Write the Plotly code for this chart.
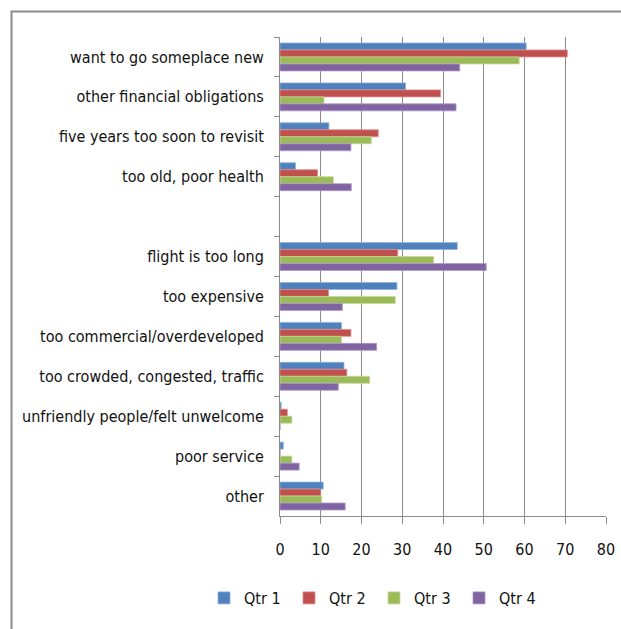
import plotly.graph_objects as go

# Reasons for not returning, by quarter (percent of respondents)
categories = [
    "want to go someplace new",
    "other financial obligations",
    "five years too soon to revisit",
    "too old, poor health",
    " ",
    "flight is too long",
    "too expensive",
    "too commercial/overdeveloped",
    "too crowded, congested, traffic",
    "unfriendly people/felt unwelcome",
    "poor service",
    "other",
]

qtr1 = [60.4, 30.8, 12.0, 3.8, None, 43.5, 28.7, 15.1, 15.7, 0.3, 0.8, 10.6]
qtr2 = [70.5, 39.4, 24.1, 9.2, None, 28.9, 11.9, 17.4, 16.4, 1.8, 0.0, 10.0]
qtr3 = [58.7, 10.8, 22.4, 13.1, None, 37.7, 28.3, 15.1, 22.0, 2.9, 2.9, 10.2]
qtr4 = [44.1, 43.2, 17.4, 17.5, None, 50.6, 15.3, 23.7, 14.3, 0.0, 4.7, 16.0]

series_names = ["Qtr 1", "Qtr 2", "Qtr 3", "Qtr 4"]
x_ticks = [0, 10, 20, 30, 40, 50, 60, 70, 80]

colors = ["#4F81BD", "#C0504D", "#9BBB59", "#8064A2"]
edges = ["#8FB0DA", "#DC8E8C", "#C3DA96", "#AE98C8"]

FONT = "Liberation Sans Narrow, DejaVu Sans Condensed, Arial Narrow, sans-serif"
W, H = 621, 629
ML, MR, MT, MB = 280, 15, 37, 113
PW, PH = W - ML - MR, H - MT - MB


def px_x(x):
    return (x - ML) / PW


def px_y(y):
    return (H - MB - y) / PH


fig = go.Figure()
for name, vals, c, e in zip(series_names, [qtr1, qtr2, qtr3, qtr4], colors, edges):
    fig.add_trace(go.Bar(
        y=categories, x=vals, name=name, orientation="h",
        marker=dict(color=c, line=dict(color=e, width=0.8)),
    ))

# outer chart frame (left and top edges)
fig.add_shape(
    type="path", xref="paper", yref="paper",
    path=f"M {px_x(11.5)} {px_y(629)} L {px_x(11.5)} {px_y(11.5)} L {px_x(621)} {px_y(11.5)}",
    line=dict(color="#8C8C8C", width=2),
)

fig.update_layout(
    width=W, height=H,
    margin=dict(l=ML, r=MR, t=MT, b=MB, pad=0, autoexpand=False),
    paper_bgcolor="white", plot_bgcolor="white",
    barmode="group", bargap=0.3, bargroupgap=0,
    font=dict(family=FONT, size=16, color="#111111"),
    showlegend=True,
    legend=dict(
        orientation="h", x=px_x(204), xanchor="left",
        y=px_y(598), yanchor="middle",
        entrywidth=40, entrywidthmode="pixels",
        itemwidth=30, font=dict(size=16, family=FONT),
        traceorder="normal",
    ),
    xaxis=dict(
        range=[0, 80], tickvals=x_ticks, ticktext=[str(v) for v in x_ticks],
        showgrid=True, gridcolor="#8C8C8C", gridwidth=1,
        showline=True, linecolor="#8C8C8C", linewidth=1,
        ticks="outside", ticklen=7, tickcolor="#8C8C8C",
        zeroline=False, fixedrange=True, ticklabelstandoff=12,
    ),
    yaxis=dict(
        type="category", categoryorder="array", categoryarray=categories,
        autorange="reversed",
        showline=True, linecolor="#8C8C8C", linewidth=1,
        ticks="outside", ticklen=5, tickcolor="#8C8C8C",
        tickson="boundaries", showgrid=False,
        ticklabelstandoff=12,
    ),
)

fig.write_html("out.html")
